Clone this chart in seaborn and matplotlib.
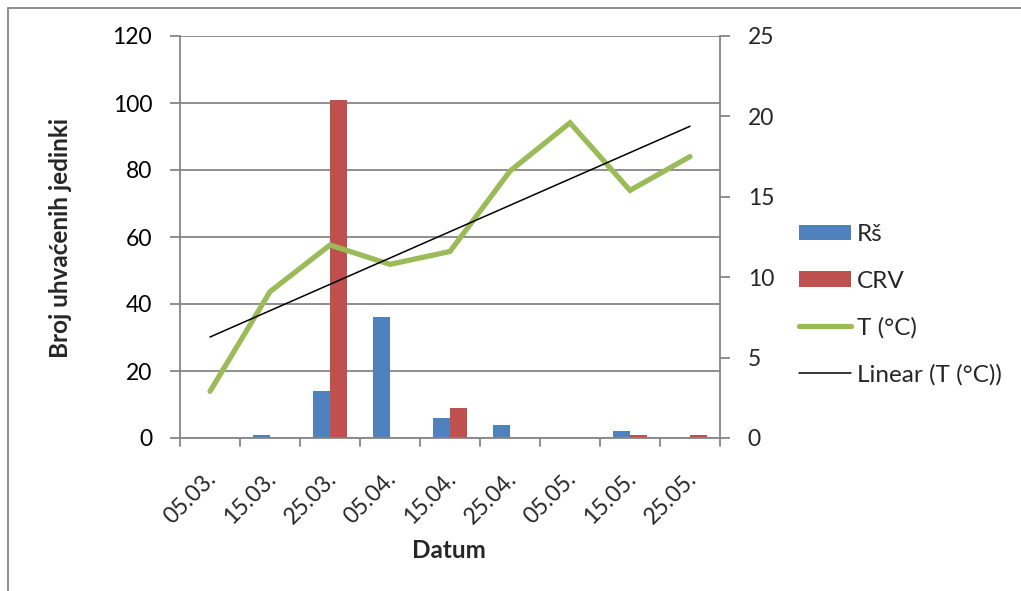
import numpy as np
import pandas as pd
import matplotlib
matplotlib.use("Agg")
import matplotlib.pyplot as plt
import matplotlib.transforms as mtransforms
from matplotlib.patches import Rectangle
from matplotlib.lines import Line2D
from matplotlib.patches import Patch
import seaborn as sns

# --- data -------------------------------------------------------------
dates = ["05.03.", "15.03.", "25.03.", "05.04.", "15.04.", "25.04.", "05.05.", "15.05.", "25.05."]
rs_counts = [0, 1, 14, 36, 6, 4, 0, 2, 0]
crv_counts = [0, 0, 101, 0, 9, 0, 0, 1, 1]
temperature = [2.9, 9.1, 12.0, 10.8, 11.6, 16.6, 19.6, 15.4, 17.5]
left_ticks = [0, 20, 40, 60, 80, 100, 120]
right_ticks = [0, 5, 10, 15, 20, 25]

series_names = ["Rš", "CRV"]
series_colors = {"Rš": "#4F81BD", "CRV": "#C0504D"}
temp_color = "#9BBB59"
axis_grey = "#868686"

sns.set_theme(style="white")
plt.rcParams["font.family"] = ["Lato", "DejaVu Sans"]
FS_TICK = 16.5
FS_DATE = 16.5
FS_TITLE = 17.5
FS_LEG = 17.5

counts = pd.DataFrame({
    "Datum": dates * 2,
    "Serija": ["Rš"] * len(dates) + ["CRV"] * len(dates),
    "Broj": rs_counts + crv_counts,
})

fig = plt.figure(figsize=(10.21, 5.91), dpi=100)
ax = fig.add_axes([180 / 1021, 1 - 438 / 591, 540 / 1021, 402 / 591])

sns.barplot(data=counts, x="Datum", y="Broj", hue="Serija", order=dates,
            hue_order=series_names, palette=series_colors, width=0.57,
            gap=0, saturation=1, edgecolor="none", legend=False, ax=ax, zorder=2)

ax.set_xlim(-0.5, len(dates) - 0.5)
ax.set_ylim(0, 120)
ax.set_yticks(left_ticks)
ax.set_yticklabels([str(t) for t in left_ticks], fontsize=FS_TICK)
ax.yaxis.grid(True, color=axis_grey, linewidth=1.3)
ax.set_axisbelow(True)
ax.set_xlabel("")
ax.set_ylabel("")

# date labels, rotated, centred under each category
ax.set_xticks(np.arange(len(dates)))
ax.set_xticklabels(dates, rotation=45, ha="right", va="center",
                   rotation_mode="anchor", fontsize=FS_DATE)
ax.tick_params(axis="x", length=0, pad=27)
offset = mtransforms.ScaledTranslation(3 / 100, 0, fig.dpi_scale_trans)
for lab in ax.get_xticklabels():
    lab.set_transform(lab.get_transform() + offset)
# tick marks on category boundaries
for xb in np.arange(-0.5, len(dates)):
    ax.plot([xb, xb], [0, -0.02], transform=ax.get_xaxis_transform(),
            color=axis_grey, linewidth=1.3, clip_on=False)

ax.tick_params(axis="y", which="major", direction="out", length=7,
               width=1.3, color=axis_grey, left=True, pad=13, labelcolor="black")
for side in ["left", "right", "bottom", "top"]:
    ax.spines[side].set_visible(side in ("left", "bottom"))
    ax.spines[side].set_color(axis_grey)
    ax.spines[side].set_linewidth(1.3)

# temperature on the secondary axis
ax2 = ax.twinx()
pos = np.arange(len(dates))
temp_df = pd.DataFrame({"pos": pos, "T": temperature})
sns.lineplot(data=temp_df, x="pos", y="T", color=temp_color, linewidth=3.8,
             solid_capstyle="round", solid_joinstyle="miter", ax=ax2, zorder=3)

# linear trend of temperature
slope, intercept = np.polyfit(pos, temperature, 1)
trend_df = pd.DataFrame({"pos": pos, "T": slope * pos + intercept})
sns.lineplot(data=trend_df, x="pos", y="T", color="black", linewidth=1.1, ax=ax2, zorder=4)

ax2.set_xlim(-0.5, len(dates) - 0.5)
ax2.set_ylim(0, 25)
ax2.set_yticks(right_ticks)
ax2.set_yticklabels([str(t) for t in right_ticks], fontsize=FS_TICK)
ax2.set_ylabel("")
ax2.set_xlabel("")
ax2.tick_params(axis="y", direction="out", length=7, width=1.3, color=axis_grey,
                right=True, pad=13)
for side in ["left", "right", "bottom", "top"]:
    ax2.spines[side].set_visible(side == "right")
ax2.spines["right"].set_color(axis_grey)
ax2.spines["right"].set_linewidth(1.3)

# axis titles
fig.text(60 / 1021, 1 - 238 / 591, "Broj uhvaćenih jedinki", rotation=90,
         ha="center", va="center", fontsize=FS_TITLE, fontweight="bold")
fig.text(449 / 1021, 1 - 551 / 591, "Datum", ha="center", va="center",
         fontsize=FS_TITLE, fontweight="bold")

# legend
handles = [
    Patch(facecolor=series_colors["Rš"], edgecolor="none"),
    Patch(facecolor=series_colors["CRV"], edgecolor="none"),
    Line2D([], [], color=temp_color, linewidth=3.8, solid_capstyle="round"),
    Line2D([], [], color="black", linewidth=1.1),
]
labels = ["Rš", "CRV", "T (°C)", "Linear (T (°C))"]
fig.legend(handles, labels, loc="upper left",
           bbox_to_anchor=(799 / 1021, 1 - 224 / 591), frameon=False,
           fontsize=FS_LEG, handlelength=2.14, handleheight=0.62, handletextpad=0.25,
           labelspacing=1.05, borderpad=0, borderaxespad=0)

# outer chart frame
fig.patches.append(Rectangle((8 / 1021, -0.1), 1.2, 1.1 - 8 / 591,
                             transform=fig.transFigure, fill=False,
                             edgecolor=axis_grey, linewidth=1.3))

fig.savefig("out.png", dpi=100)
